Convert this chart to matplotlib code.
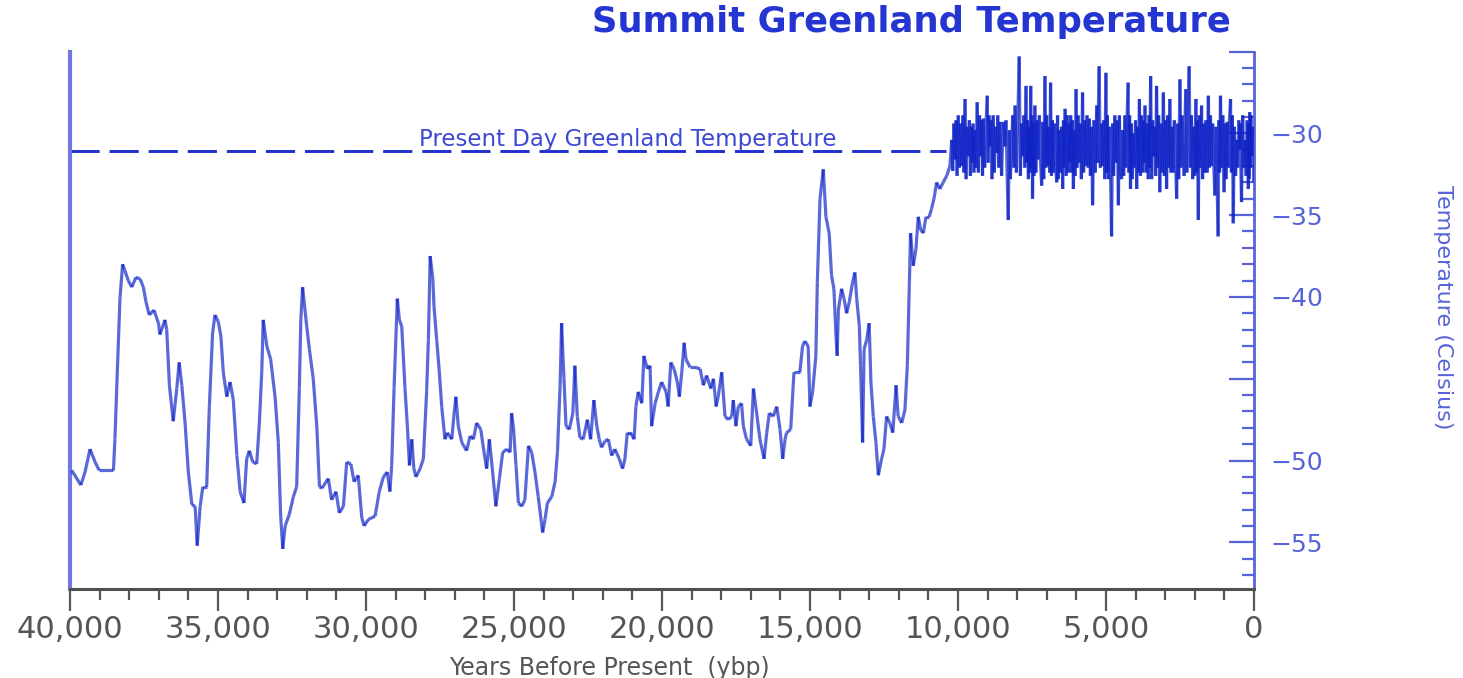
import numpy as np
import matplotlib.pyplot as plt
from matplotlib.collections import LineCollection
from matplotlib.ticker import MultipleLocator, FixedLocator, FuncFormatter

# GISP2 ice core, Summit Greenland: years before present / temperature (deg C)
# glacial part, 40 kyr to the end of the Younger Dryas
years = [
    39940, 39630, 39490, 39320, 39150, 39010, 38530, 38480, 38400, 38310,
    38220, 38140, 38030, 37910, 37770, 37630, 37520, 37430, 37320, 37160,
    37010, 36960, 36790, 36730, 36640, 36510, 36390, 36310, 36220, 36110,
    36000, 35880, 35770, 35700, 35600, 35510, 35380, 35290, 35180, 35100,
    34990, 34900, 34820, 34700, 34590, 34480, 34360, 34250, 34120, 34030,
    33940, 33820, 33690, 33600, 33520, 33470, 33350, 33220, 33070, 32960,
    32880, 32810, 32730, 32590, 32450, 32340, 32250, 32200, 32140, 32000,
    31910, 31780, 31660, 31570, 31490, 31270, 31160, 31010, 30900, 30760,
    30650, 30510, 30400, 30260, 30140, 30060, 29920, 29690, 29550, 29410,
    29280, 29190, 29130, 29050, 28940, 28870, 28790, 28680, 28600, 28530,
    28450, 28380, 28310, 28170, 28060, 27950, 27890, 27830, 27740, 27700,
    27610, 27520, 27440, 27330, 27250, 27100, 27020, 26960, 26880, 26760,
    26600, 26480, 26370, 26260, 26120, 26010, 25920, 25830, 25720, 25610,
    25490, 25380, 25240, 25130, 25080, 25020, 24930, 24850, 24740, 24630,
    24510, 24400, 24290, 24180, 24030, 23950, 23870, 23720, 23610, 23530,
    23440, 23390, 23310, 23240, 23130, 23010, 22940, 22860, 22770, 22660,
    22520, 22410, 22300, 22200, 22120, 22040, 21920, 21810, 21700, 21590,
    21440, 21330, 21250, 21170, 21060, 20940, 20880, 20800, 20680, 20610,
    20490, 20400, 20350, 20230, 20120, 20010, 19860, 19790, 19700, 19590,
    19480, 19410, 19330, 19250, 19190, 19050, 18880, 18710, 18600, 18490,
    18350, 18260, 18170, 18100, 17980, 17870, 17760, 17640, 17590, 17500,
    17420, 17310, 17250, 17140, 17000, 16910, 16800, 16690, 16550, 16460,
    16370, 16240, 16120, 16010, 15920, 15840, 15790, 15650, 15540, 15340,
    15250, 15170, 15060, 15000, 14910, 14800, 14750, 14660, 14550, 14460,
    14350, 14270, 14190, 14120, 14080, 14040, 13930, 13850, 13760, 13670,
    13560, 13480, 13420, 13330, 13290, 13220, 13170, 13080, 13000, 12940,
    12860, 12770, 12690, 12580, 12500, 12410, 12300, 12200, 12090, 12020,
    11900, 11790, 11710, 11640, 11600, 11510, 11420, 11340, 11260, 11170,
    11080, 10970, 10890, 10810, 10720, 10610, 10500, 10380, 10270,
]
temps = [
    -50.6, -51.5, -50.7, -49.3, -50.1, -50.6, -50.6, -48.7, -44.6, -40.1,
    -38.0, -38.4, -39.0, -39.4, -38.8, -38.9, -39.4, -40.3, -41.1, -40.8,
    -41.6, -42.3, -41.4, -42.0, -45.4, -47.6, -45.6, -44.0, -45.4, -47.7,
    -50.7, -52.7, -52.8, -55.2, -52.8, -51.6, -51.6, -46.7, -42.2, -41.1,
    -41.5, -42.4, -44.6, -46.1, -45.2, -46.3, -49.7, -51.9, -52.6, -49.9,
    -49.4, -50.1, -50.2, -47.7, -44.6, -41.4, -43.0, -43.8, -46.1, -48.9,
    -53.4, -55.4, -54.0, -53.3, -52.2, -51.6, -45.6, -41.4, -39.4, -41.8,
    -43.2, -45.0, -47.9, -51.6, -51.7, -51.1, -52.4, -51.9, -53.2, -52.8,
    -50.1, -50.2, -51.3, -50.9, -53.5, -54.0, -53.6, -53.4, -51.9, -51.0,
    -50.7, -51.9, -50.3, -45.6, -40.1, -41.4, -41.8, -45.6, -47.9, -50.3,
    -48.7, -50.5, -51.0, -50.5, -49.9, -45.8, -42.6, -37.5, -38.9, -40.6,
    -42.6, -44.6, -46.7, -48.7, -48.3, -48.7, -47.1, -46.1, -47.9, -48.9,
    -49.4, -48.5, -48.7, -47.7, -48.1, -49.5, -50.5, -48.7, -50.7, -52.8,
    -51.1, -49.5, -49.3, -49.5, -47.1, -47.9, -50.3, -52.6, -52.8, -52.4,
    -49.1, -49.5, -50.7, -52.2, -54.4, -53.6, -52.6, -52.2, -51.3, -49.5,
    -45.4, -41.6, -45.0, -47.9, -48.1, -47.1, -44.2, -47.3, -48.6, -48.7,
    -47.5, -48.7, -46.3, -47.9, -48.7, -49.2, -48.8, -48.7, -49.7, -49.3,
    -49.9, -50.5, -49.9, -48.3, -48.3, -48.7, -46.7, -45.8, -46.5, -43.6,
    -44.4, -44.2, -47.9, -46.5, -45.8, -45.2, -45.8, -46.7, -44.0, -44.4,
    -45.2, -46.1, -44.6, -42.8, -43.8, -44.3, -44.3, -44.4, -45.4, -44.8,
    -45.6, -45.0, -46.7, -46.1, -44.6, -47.3, -47.5, -47.3, -46.3, -47.9,
    -46.7, -46.5, -47.9, -48.7, -49.1, -45.6, -47.1, -48.7, -49.9, -48.3,
    -47.1, -47.3, -46.7, -48.1, -49.9, -48.7, -48.3, -48.1, -44.6, -44.6,
    -43.0, -42.7, -43.0, -46.7, -45.8, -43.6, -39.1, -34.0, -32.2, -35.1,
    -36.1, -38.7, -39.5, -42.4, -43.6, -40.8, -39.5, -40.1, -41.0, -40.3,
    -39.1, -38.5, -40.1, -41.8, -44.2, -48.9, -43.2, -42.6, -41.6, -45.2,
    -47.3, -48.9, -50.9, -49.9, -49.3, -47.3, -47.7, -48.3, -45.4, -47.3,
    -47.7, -46.9, -44.2, -39.1, -36.1, -38.1, -37.1, -35.1, -35.9, -36.1,
    -35.1, -35.1, -34.6, -34.0, -33.0, -33.4, -33.0, -32.6, -32.0,
]

# Holocene, sampled much more finely
holo_years = [
    10210, 10175, 10140, 10100, 10065, 10030, 9990, 9950, 9910,
    9870, 9835, 9800, 9760, 9725, 9690, 9650, 9615, 9580,
    9540, 9515, 9490, 9460, 9425, 9390, 9350, 9310, 9270,
    9230, 9200, 9170, 9140, 9095, 9050, 9010, 8980, 8950,
    8920, 8885, 8850, 8810, 8770, 8730, 8690, 8655, 8620,
    8580, 8525, 8470, 8410, 8375, 8340, 8300, 8265, 8230,
    8190, 8150, 8110, 8070, 8025, 7980, 7930, 7890, 7850,
    7810, 7775, 7740, 7700, 7675, 7650, 7620, 7595, 7570,
    7540, 7520, 7500, 7480, 7455, 7430, 7400, 7365, 7330,
    7290, 7250, 7210, 7170, 7135, 7100, 7060, 7030, 7000,
    6970, 6935, 6900, 6870, 6840, 6810, 6780, 6740, 6700,
    6660, 6635, 6610, 6580, 6540, 6500, 6460, 6435, 6410,
    6380, 6345, 6310, 6270, 6245, 6220, 6190, 6160, 6130,
    6100, 6070, 6040, 6010, 5975, 5940, 5900, 5865, 5830,
    5790, 5755, 5720, 5680, 5640, 5600, 5560, 5525, 5490,
    5450, 5405, 5360, 5310, 5285, 5260, 5230, 5190, 5150,
    5110, 5075, 5040, 5000, 4975, 4950, 4920, 4885, 4850,
    4810, 4775, 4740, 4700, 4660, 4620, 4580, 4545, 4510,
    4470, 4435, 4400, 4360, 4325, 4290, 4250, 4225, 4200,
    4170, 4140, 4110, 4080, 4040, 4000, 3960, 3930, 3900,
    3870, 3835, 3800, 3760, 3735, 3710, 3680, 3645, 3610,
    3570, 3545, 3520, 3490, 3455, 3420, 3380, 3350, 3320,
    3290, 3255, 3220, 3180, 3140, 3100, 3060, 3025, 2990,
    2950, 2915, 2880, 2840, 2805, 2770, 2730, 2690, 2650,
    2610, 2575, 2540, 2500, 2465, 2430, 2390, 2360, 2330,
    2300, 2265, 2230, 2190, 2150, 2110, 2070, 2035, 2000,
    1960, 1935, 1910, 1880, 1845, 1810, 1770, 1735, 1700,
    1660, 1620, 1580, 1540, 1505, 1470, 1430, 1395, 1360,
    1320, 1285, 1250, 1210, 1185, 1160, 1130, 1090, 1050,
    1010, 975, 940, 900, 865, 830, 790, 760, 730,
    700, 660, 620, 580, 545, 510, 470, 455, 440,
    420, 380, 340, 300, 265, 230, 190, 175, 160,
    140, 120, 100, 80, 40, 10,
]
holo_temps = [
    -30.4, -32.3, -29.4, -31.6, -29.2, -32.6, -28.9, -32.1, -29.4,
    -32.0, -28.9, -32.4, -27.9, -32.8, -29.6, -31.4, -29.2, -32.6,
    -29.6, -31.8, -29.4, -32.4, -29.8, -32.1, -28.1, -32.4, -28.9,
    -31.4, -29.2, -32.6, -29.1, -32.1, -29.4, -27.7, -31.8, -28.9,
    -30.8, -29.2, -32.8, -28.9, -32.4, -29.6, -31.2, -28.9, -32.1,
    -29.3, -32.6, -29.3, -30.8, -29.2, -32.4, -35.3, -29.8, -32.8,
    -31.0, -28.9, -32.1, -28.3, -32.4, -29.2, -25.3, -32.6, -29.4,
    -31.4, -28.9, -32.1, -27.1, -31.8, -29.2, -32.8, -29.6, -32.4,
    -27.1, -32.1, -28.9, -34.0, -29.4, -32.6, -28.3, -32.4, -29.2,
    -31.6, -28.9, -31.8, -33.2, -29.3, -32.8, -26.5, -32.1, -28.9,
    -32.0, -29.6, -32.4, -26.9, -32.6, -29.2, -32.4, -29.4, -32.1,
    -33.0, -28.9, -32.8, -29.8, -32.4, -29.6, -33.4, -29.2, -32.1,
    -28.5, -32.6, -28.9, -32.4, -29.4, -31.8, -28.9, -32.4, -29.2,
    -33.4, -29.8, -32.6, -27.3, -32.1, -28.9, -31.8, -29.4, -32.8,
    -27.5, -32.4, -29.2, -32.0, -28.9, -32.1, -29.1, -32.6, -29.6,
    -34.4, -29.2, -32.4, -28.3, -31.8, -28.9, -25.9, -32.1, -29.4,
    -32.0, -29.2, -32.8, -26.3, -32.4, -28.9, -32.8, -29.6, -32.1,
    -36.3, -29.4, -32.6, -28.9, -31.8, -29.2, -34.4, -28.9, -32.4,
    -32.8, -29.8, -32.6, -28.9, -32.1, -29.2, -26.9, -32.4, -28.9,
    -33.4, -29.4, -32.8, -30.0, -32.1, -29.2, -33.4, -29.6, -32.4,
    -27.9, -32.6, -28.9, -32.4, -29.2, -31.8, -28.3, -32.4, -29.4,
    -32.8, -28.9, -32.1, -26.5, -32.8, -29.2, -31.4, -29.6, -32.6,
    -27.1, -32.1, -28.9, -33.6, -29.4, -32.4, -27.5, -32.6, -29.2,
    -33.4, -28.9, -32.1, -27.9, -32.4, -29.6, -32.4, -29.2, -31.8,
    -34.0, -29.4, -32.8, -26.7, -32.1, -28.9, -30.4, -32.6, -29.2,
    -27.3, -32.4, -29.4, -25.9, -32.1, -28.9, -32.8, -29.6, -32.6,
    -27.9, -32.4, -29.2, -35.3, -28.9, -32.1, -28.3, -32.8, -29.4,
    -32.4, -29.2, -32.4, -27.7, -32.1, -28.9, -32.0, -29.4, -31.8,
    -33.8, -29.6, -32.6, -36.3, -29.2, -32.4, -27.7, -32.1, -28.9,
    -33.6, -29.4, -32.8, -29.3, -32.1, -29.2, -27.9, -32.4, -28.9,
    -35.5, -29.6, -32.6, -30.4, -32.1, -29.2, -31.0, -29.4, -32.4,
    -34.2, -28.9, -32.1, -30.4, -32.6, -29.2, -33.4, -29.4, -32.8,
    -28.7, -32.1, -28.9, -31.4, -29.6, -33.0,
]
present_day = -31.1
present_end = 10400

ytick_vals = [-25, -30, -35, -40, -45, -50, -55]
ytick_text = ['', '\u221230', '\u221235', '\u221240', '', '\u221250', '\u221255']

blue = '#0e22c6'
soft_blue = '#5763d8'
gray = '#555555'

fig = plt.figure(figsize=(14.63, 6.78), dpi=100)
ax = fig.add_axes([0.0478, 0.1313, 0.8093, 0.7927])

# each step is its own segment so that overlapping strokes build up darker
pts = np.column_stack([years + holo_years, temps + holo_temps])
segs = np.stack([pts[:-1], pts[1:]], axis=1)
ax.add_collection(LineCollection(segs, colors=blue, linewidths=2.3,
                                 alpha=0.68, capstyle='butt', zorder=3))

ax.plot([40000, present_end], [present_day, present_day], color='#1f30cc',
        lw=2.1, dashes=(10, 3.4), zorder=2)
ax.text(21150, present_day + 0.05, 'Present Day Greenland Temperature',
        ha='center', va='bottom', fontsize=16.5, color='#3d49d2')

ax.set_xlim(40000, 0)
ax.set_ylim(-57.85, -25)

ax.yaxis.tick_right()
ax.yaxis.set_label_position('right')
ax.yaxis.set_major_locator(FixedLocator(ytick_vals))
ax.set_yticklabels(ytick_text)
ax.yaxis.set_minor_locator(MultipleLocator(1))
ax.tick_params(axis='y', which='both', direction='in', colors=soft_blue,
               labelsize=18, pad=12)
ax.tick_params(axis='y', which='major', length=18, width=1.6)
ax.tick_params(axis='y', which='minor', length=9, width=1.6)

ax.xaxis.set_major_locator(MultipleLocator(5000))
ax.xaxis.set_minor_locator(MultipleLocator(1000))
ax.xaxis.set_major_formatter(FuncFormatter(lambda v, p: '{:,.0f}'.format(v)))
ax.tick_params(axis='x', which='both', direction='out', colors=gray,
               labelsize=22, pad=3)
ax.tick_params(axis='x', which='major', length=16, width=1.6)
ax.tick_params(axis='x', which='minor', length=8, width=1.6)

ax.spines['top'].set_visible(False)
ax.spines['left'].set_color('#7078dd')
ax.spines['left'].set_linewidth(3)
ax.spines['right'].set_color(soft_blue)
ax.spines['right'].set_linewidth(2)
ax.spines['bottom'].set_color('#505050')
ax.spines['bottom'].set_linewidth(2.2)

ax.set_xlabel('Years Before Present  (ybp)', fontsize=17, color=gray, va='top')
ax.xaxis.set_label_coords(0.456, -0.125)
ax.set_ylabel('Temperature (Celsius)', fontsize=16, color=soft_blue,
              rotation=270, va='center')
ax.yaxis.set_label_coords(1.1596, 0.5247)

fig.suptitle('Summit Greenland Temperature', x=0.6227, y=0.9676, va='center',
             fontsize=25.5, fontweight='bold', color='#2435d2')

fig.savefig('out.png', dpi=100)
